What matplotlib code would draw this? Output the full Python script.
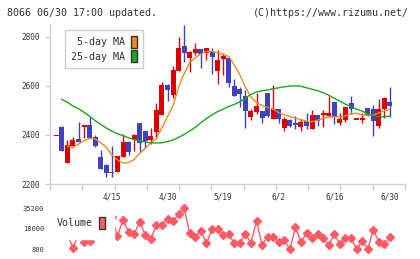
import numpy as np
import matplotlib
matplotlib.use('Agg')
import matplotlib.pyplot as plt
from matplotlib.patches import Patch

nan = np.nan

# OHLC diario, 61 sesiones
opens = [2395, 2433, 2287, 2356, 2383, 2433, 2439, 2390, 2311, 2276,
         2249, 2250, 2311, 2371, 2379, 2447, 2416, 2379, 2413, 2481,
         2603, 2562, 2660, 2762, 2714, 2735, 2749, 2732, 2739, 2661,
         2708, 2714, 2599, 2587, 2558, 2474, 2493, 2497, 2569, 2466,
         2504, 2429, 2461, 2448, 2433, 2455, 2425, 2480, 2480, 2477,
         2534, 2450, 2461, 2530, 2461, 2461, 2509, 2505, 2436, 2504,
         2535]
highs = [2395, 2437, 2380, 2390, 2452, 2441, 2472, 2400, 2338, 2280,
         2356, 2316, 2404, 2375, 2405, 2448, 2418, 2427, 2529, 2617,
         2606, 2681, 2800, 2848, 2740, 2773, 2750, 2755, 2753, 2746,
         2732, 2716, 2626, 2596, 2583, 2507, 2569, 2499, 2571, 2603,
         2506, 2472, 2463, 2477, 2463, 2488, 2501, 2482, 2501, 2558,
         2536, 2488, 2514, 2558, 2461, 2488, 2511, 2522, 2546, 2556,
         2596]
lows = [2395, 2336, 2287, 2356, 2370, 2386, 2389, 2350, 2262, 2227,
        2227, 2250, 2311, 2320, 2334, 2330, 2345, 2363, 2393, 2481,
        2539, 2552, 2660, 2698, 2657, 2725, 2671, 2705, 2647, 2606,
        2644, 2596, 2558, 2515, 2429, 2461, 2485, 2447, 2474, 2464,
        2450, 2417, 2433, 2425, 2417, 2425, 2425, 2436, 2433, 2476,
        2444, 2440, 2454, 2485, 2461, 2450, 2478, 2397, 2430, 2468,
        2472]
closes = [2395, 2336, 2359, 2379, 2372, 2440, 2389, 2356, 2262, 2244,
          2244, 2314, 2371, 2332, 2400, 2368, 2376, 2395, 2501, 2603,
          2583, 2664, 2755, 2735, 2738, 2750, 2729, 2753, 2716, 2705,
          2723, 2613, 2560, 2567, 2499, 2499, 2518, 2470, 2477, 2504,
          2466, 2465, 2436, 2442, 2452, 2438, 2480, 2458, 2488, 2488,
          2474, 2465, 2512, 2507, 2461, 2461, 2481, 2458, 2505, 2550,
          2518]
volumes = [15000, 16000, 13500, 1600, 14000, 7200, 8000, 13500, 13600, 16000,
           28000, 12000, 25400, 15100, 13400, 24000, 12800, 9400, 21200, 21200,
           26200, 24500, 30200, 35200, 14200, 10900, 16200, 5800, 17600, 17600,
           12800, 13400, 5800, 6300, 13400, 6300, 24500, 4400, 11400, 11400,
           7200, 8600, 800, 19300, 6700, 14200, 10000, 13400, 10000, 4400,
           13400, 5000, 10000, 10000, 1100, 8000, 1100, 17000, 7200, 5000,
           10900]
ma5 = [nan, nan, 2355, 2348, 2363, 2376, 2386, 2384, 2368, 2350,
       2318, 2298, 2285, 2288, 2300, 2325, 2345, 2368, 2385, 2430,
       2475, 2520, 2596, 2650, 2695, 2715, 2730, 2740, 2740, 2735,
       2728, 2720, 2685, 2645, 2595, 2555, 2532, 2520, 2512, 2505,
       2490, 2482, 2475, 2468, 2462, 2456, 2454, 2460, 2468, 2472,
       2474, 2474, 2478, 2486, 2488, 2482, 2480, 2481, 2490, 2498,
       2504]
ma25 = [nan, 2545, 2533, 2518, 2507, 2492, 2476, 2458, 2443, 2428,
        2415, 2405, 2397, 2388, 2381, 2376, 2371, 2368, 2367, 2368,
        2373, 2379, 2390, 2402, 2416, 2431, 2450, 2467, 2482, 2495,
        2505, 2516, 2524, 2535, 2550, 2565, 2575, 2580, 2583, 2588,
        2592, 2596, 2599, 2600, 2598, 2592, 2586, 2580, 2572, 2562,
        2549, 2538, 2525, 2515, 2505, 2497, 2485, 2479, 2474, 2474,
        2477]
date_labels = ['4/15', '4/30', '5/19', '6/2', '6/16', '6/30']
date_pos = [10, 20, 30, 40, 50, 60]

MONO = 'DejaVu Sans Mono'
TXT = '#333333'
GRID = '#d0d0d0'
UP = '#dd0000'
DOWN = '#4040c0'
VOL = '#ff5a64'

W, H = 420, 259
fig = plt.figure(figsize=(W / 100, H / 100), dpi=100)
ax = fig.add_axes([50 / W, 1 - 184 / H, 355 / W, 160 / H])
axv = fig.add_axes([50 / W, 1 - 249.3 / H, 355 / W, 41 / H])

x = np.arange(len(closes))
o = np.array(opens)
c = np.array(closes)
colors = np.where(c >= o, UP, DOWN)

# velas
ax.vlines(x, lows, highs, colors=colors, linewidth=1, zorder=2)
ax.bar(x, np.maximum(np.abs(c - o), 6), bottom=np.minimum(o, c), width=0.9,
       color=colors, linewidth=0, zorder=3)

# medias moviles
ax.plot(x, ma5, color='#f08a1a', linewidth=1, zorder=4)
ax.plot(x, ma25, color='#18a818', linewidth=1, zorder=4)

xmin, xmax = -1.13, 62.7
ax.set_xlim(xmin, xmax)
ax.set_ylim(2200, 2852)
ax.set_xticks(np.linspace(xmin, xmax, 12))
ax.set_xticklabels([])
ax.set_xticks(date_pos, date_labels, minor=True)
ax.set_yticks([2200, 2400, 2600, 2800])
ax.tick_params(axis='x', which='major', length=4.3, width=1, color=GRID)
ax.tick_params(axis='x', which='minor', length=0, pad=6, labelsize=5.6,
               labelcolor=TXT)
ax.tick_params(axis='y', length=3.6, width=1, pad=3.6, color=GRID,
               labelsize=5.6, labelcolor=TXT)
for lab in ax.get_xticklabels(minor=True) + ax.get_yticklabels():
    lab.set_family(MONO)
for s in ['top', 'right']:
    ax.spines[s].set_visible(False)
for s in ['left', 'bottom']:
    ax.spines[s].set_color(GRID)
    ax.spines[s].set_linewidth(1)

leg = ax.legend([Patch(facecolor='#f08a1a', edgecolor='#333333', linewidth=1),
                 Patch(facecolor='#18a818', edgecolor='#333333', linewidth=1)],
                ['5-day MA', '25-day MA'], loc='upper left',
                bbox_to_anchor=(65 / W, 1 - 30 / H), bbox_transform=fig.transFigure,
                fancybox=False, framealpha=1, edgecolor='#cccccc',
                markerfirst=False, handlelength=0.6, handleheight=1.5,
                handletextpad=0.6, labelspacing=0.2, borderpad=0.6,
                borderaxespad=0, labelcolor=TXT, prop={'family': MONO, 'size': 7.2})
leg.get_frame().set_linewidth(1)

# volumen
axv.plot(x, volumes, color=VOL, linewidth=1, marker='D', markersize=4,
         clip_on=False)
axv.set_xlim(xmin, xmax)
axv.set_ylim(800, 35200)
axv.set_yticks([800, 18000, 35200])
axv.tick_params(axis='y', length=0, pad=4.3, labelsize=5, labelcolor=TXT)
axv.tick_params(axis='x', bottom=False, labelbottom=False)
for lab in axv.get_yticklabels():
    lab.set_family(MONO)
for s in axv.spines.values():
    s.set_visible(False)
axv.patch.set_visible(False)
axv.legend([Patch(facecolor='#ff6068', edgecolor='#333333', linewidth=1)],
           ['Volume'], loc='upper left',
           bbox_to_anchor=(47 / W, 1 - 207 / H), bbox_transform=fig.transFigure,
           fancybox=False, framealpha=1, edgecolor='white',
           markerfirst=False, handlelength=0.6, handleheight=1.5,
           handletextpad=0.6, borderpad=0.97, borderaxespad=0,
           labelcolor=TXT, prop={'family': MONO, 'size': 7.2})

fig.text(7 / W, 1 - 13 / H, '8066 06/30 17:00 updated.', family=MONO,
         fontsize=7.2, color=TXT, va='center', ha='left')
fig.text(409 / W, 1 - 13 / H, '(C)https://www.rizumu.net/', family=MONO,
         fontsize=7.2, color=TXT, va='center', ha='right')

fig.savefig('out.png', dpi=100)
